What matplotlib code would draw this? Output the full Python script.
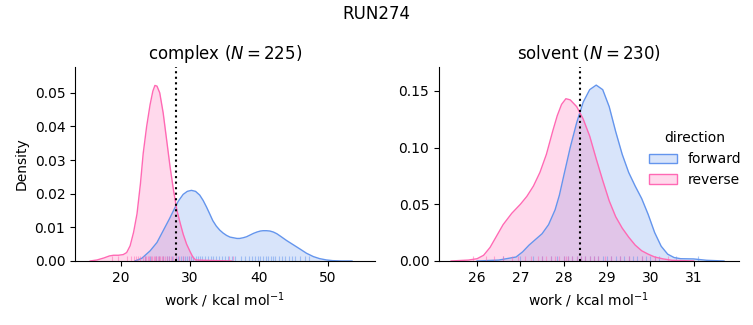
import matplotlib
matplotlib.use("Agg")
import matplotlib.pyplot as plt
from matplotlib.colors import to_rgba
from matplotlib.patches import Patch

# density curves (work / kcal mol^-1, density)
complex_fwd_x = [22.0, 23.0, 24.2, 25.2, 26.1, 27.0, 27.6, 28.3, 29.0, 29.6, 30.2, 30.8, 31.4, 31.9, 32.4, 32.9,
                 33.3, 33.8, 34.3, 34.8, 35.3, 35.8, 36.3, 36.8, 37.2, 37.7, 38.2, 38.7, 39.2, 39.7, 40.2, 40.6,
                 41.1, 41.6, 42.1, 42.6, 43.1, 44.0, 45.0, 46.0, 46.9, 47.9, 48.8, 49.8, 50.7, 52.0, 53.5]
complex_fwd_y = [0.0, 0.0008, 0.003, 0.0055, 0.009, 0.0125, 0.015, 0.0178, 0.0198, 0.0207, 0.0210, 0.0207,
                 0.0196, 0.0180, 0.0160, 0.0138, 0.0120, 0.0104, 0.0092, 0.0083, 0.0076, 0.0071, 0.0069, 0.0067,
                 0.0067, 0.0069, 0.0072, 0.0077, 0.0082, 0.0086, 0.0089, 0.0090, 0.0090, 0.0089, 0.0086, 0.0081,
                 0.0074, 0.0061, 0.0048, 0.0035, 0.0023, 0.0013, 0.0007, 0.0003, 0.0001, 0.0, 0.0]
complex_rev_x = [15.5, 16.5, 17.5, 18.3, 18.9, 19.6, 20.3, 20.8, 21.3, 21.8, 22.3, 22.8, 23.2, 23.7, 24.2, 24.6,
                 24.9, 25.2, 25.6, 26.1, 26.6, 27.1, 27.6, 28.1, 28.6, 29.0, 29.5, 30.0, 30.4, 30.8, 32.0, 34.0,
                 36.0]
complex_rev_y = [0.0, 0.0003, 0.0009, 0.0015, 0.0017, 0.0017, 0.0019, 0.0025, 0.0045, 0.0085, 0.014, 0.023,
                 0.032, 0.040, 0.0465, 0.0505, 0.0522, 0.0520, 0.0500, 0.0440, 0.0360, 0.0280, 0.0210, 0.0150,
                 0.0110, 0.0080, 0.0050, 0.0028, 0.0012, 0.0003, 0.0002, 0.0001, 0.0]

solvent_fwd_x = [26.0, 26.5, 26.9, 27.05, 27.2, 27.35, 27.5, 27.65, 27.8, 27.9, 28.0, 28.15, 28.3, 28.45, 28.6,
                 28.75, 28.9, 29.05, 29.2, 29.35, 29.5, 29.65, 29.8, 29.95, 30.1, 30.25, 30.4, 30.55, 30.7, 31.0,
                 31.3, 31.7]
solvent_fwd_y = [0.0, 0.0008, 0.0035, 0.008, 0.014, 0.019, 0.024, 0.032, 0.045, 0.058, 0.075, 0.100, 0.122,
                 0.140, 0.151, 0.155, 0.151, 0.136, 0.114, 0.094, 0.078, 0.066, 0.055, 0.041, 0.025, 0.013,
                 0.006, 0.003, 0.002, 0.0018, 0.0006, 0.0]
solvent_rev_x = [25.4, 25.8, 26.0, 26.15, 26.3, 26.45, 26.6, 26.8, 27.0, 27.15, 27.3, 27.45, 27.6, 27.75, 27.85,
                 27.95, 28.05, 28.15, 28.3, 28.45, 28.6, 28.75, 28.9, 29.05, 29.2, 29.35, 29.5, 29.65, 29.8,
                 29.95, 30.1, 30.3, 30.5, 31.0]
solvent_rev_y = [0.0, 0.0008, 0.002, 0.005, 0.012, 0.022, 0.032, 0.042, 0.050, 0.057, 0.066, 0.078, 0.094,
                 0.115, 0.128, 0.138, 0.143, 0.142, 0.136, 0.125, 0.110, 0.090, 0.071, 0.053, 0.039, 0.029,
                 0.021, 0.014, 0.009, 0.006, 0.0035, 0.0018, 0.0006, 0.0]

# individual work values (rug ticks), read approximately
complex_fwd_rug = [23.4, 24.2, 25.0, 25.5, 26.1, 26.6, 27.0, 27.4, 27.9, 28.3, 28.7, 29.0, 29.3, 29.6, 29.9,
                   30.2, 30.5, 30.8, 31.1, 31.4, 31.8, 32.2, 32.6, 33.0, 33.3, 33.8, 34.2, 34.6, 35.0, 35.5,
                   36.1, 36.5, 37.4, 38.0, 38.6, 39.0, 39.4, 39.8, 40.2, 40.6, 41.0, 41.3, 41.7, 42.1, 42.4,
                   42.9, 43.4, 43.8, 44.3, 44.8, 45.3, 46.0, 46.7, 47.3]
complex_rev_rug = [18.6, 19.6, 20.8, 21.4, 21.8, 22.1, 22.5, 22.8, 23.1, 23.4, 23.6, 23.9, 24.1, 24.3, 24.5,
                   24.7, 24.9, 25.1, 25.3, 25.5, 25.7, 25.9, 26.1, 26.3, 26.6, 26.9, 27.2, 27.5, 27.9, 28.4,
                   29.0, 29.8, 35.6, 36.2]
solvent_fwd_rug = [26.6, 27.0, 27.3, 27.5, 27.7, 27.85, 28.0, 28.1, 28.2, 28.3, 28.4, 28.5, 28.6, 28.7, 28.8,
                   28.9, 29.0, 29.1, 29.2, 29.3, 29.4, 29.5, 29.6, 29.7, 29.8, 29.9, 30.0, 30.1, 30.2, 30.6,
                   31.1]
solvent_rev_rug = [25.9, 26.2, 26.4, 26.6, 26.8, 26.95, 27.1, 27.25, 27.4, 27.5, 27.6, 27.7, 27.8, 27.9, 28.0,
                   28.05, 28.1, 28.2, 28.3, 28.4, 28.5, 28.6, 28.7, 28.8, 28.95, 29.1, 29.3, 29.5, 29.8, 30.1,
                   30.4]

complex_n = 225
solvent_n = 230
complex_mark = 28.0
solvent_mark = 28.38

fwd_color = "cornflowerblue"
rev_color = "hotpink"


def draw_panel(ax, fwd, rev, fwd_rug, rev_rug, mark, title):
    for (x, y), rug, c in [(fwd, fwd_rug, fwd_color), (rev, rev_rug, rev_color)]:
        ax.fill_between(x, y, color=c, alpha=0.25, linewidth=0)
        ax.plot(x, y, color=c, linewidth=1)
        ax.vlines(rug, 0, 0.025, color=c, alpha=0.5, linewidth=0.8,
                  transform=ax.get_xaxis_transform())
    ax.axvline(mark, color="black", linestyle=":", linewidth=1.5)
    ax.set_title(title, fontsize=12)
    ax.set_xlabel("work / kcal mol$^{-1}$")
    ax.spines["top"].set_visible(False)
    ax.spines["right"].set_visible(False)


fig = plt.figure(figsize=(7.53, 3.25), dpi=100)
ax1 = fig.add_axes([0.0996, 0.197, 0.398, 0.597])
ax2 = fig.add_axes([0.583, 0.197, 0.398, 0.597])

draw_panel(ax1, (complex_fwd_x, complex_fwd_y), (complex_rev_x, complex_rev_y),
           complex_fwd_rug, complex_rev_rug, complex_mark, "complex ($N = %d$)" % complex_n)
ax1.set_xlim(13.3, 56.8)
ax1.set_ylim(0, 0.0577)
ax1.set_xticks([20, 30, 40, 50])
ax1.set_yticks([0, 0.01, 0.02, 0.03, 0.04, 0.05])
ax1.set_ylabel("Density")

draw_panel(ax2, (solvent_fwd_x, solvent_fwd_y), (solvent_rev_x, solvent_rev_y),
           solvent_fwd_rug, solvent_rev_rug, solvent_mark, "solvent ($N = %d$)" % solvent_n)
ax2.set_xlim(25.12, 32.04)
ax2.set_ylim(0, 0.171)
ax2.set_xticks([26, 27, 28, 29, 30, 31])
ax2.set_yticks([0, 0.05, 0.10, 0.15])

handles = [Patch(facecolor=to_rgba(fwd_color, 0.25), edgecolor=fwd_color, label="forward"),
           Patch(facecolor=to_rgba(rev_color, 0.25), edgecolor=rev_color, label="reverse")]
fig.legend(handles=handles, title="direction", frameon=False, loc="center left",
           bbox_to_anchor=(0.845, 0.51))

fig.suptitle("RUN274", fontsize=12, y=0.985)

fig.savefig("out.png", dpi=100)
